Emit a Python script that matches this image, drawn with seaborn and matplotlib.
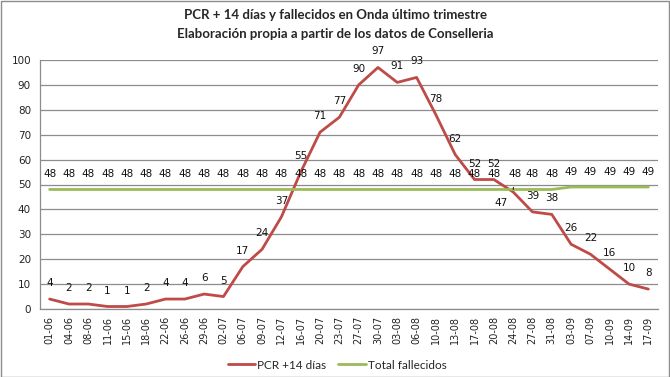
import matplotlib
matplotlib.use("Agg")
import matplotlib.pyplot as plt
import seaborn as sns
import pandas as pd
from matplotlib.patches import Rectangle

fechas = ["01-06", "04-06", "08-06", "11-06", "15-06", "18-06", "22-06", "26-06",
          "29-06", "02-07", "06-07", "09-07", "12-07", "16-07", "20-07", "23-07",
          "27-07", "30-07", "03-08", "06-08", "10-08", "13-08", "17-08", "20-08",
          "24-08", "27-08", "31-08", "03-09", "07-09", "10-09", "14-09", "17-09"]
pcr = [4, 2, 2, 1, 1, 2, 4, 4, 6, 5, 17, 24, 37, 55, 71, 77, 90, 97, 91, 93,
       78, 62, 52, 52, 47, 39, 38, 26, 22, 16, 10, 8]
fallecidos = [48] * 27 + [49] * 5

serie_pcr = "PCR +14 días"
serie_fall = "Total fallecidos"

idx = list(range(len(fechas)))
df = pd.DataFrame({
    "x": idx * 2,
    "valor": pcr + fallecidos,
    "serie": [serie_pcr] * len(idx) + [serie_fall] * len(idx),
})

sns.set_style("white")
plt.rcParams["font.family"] = ["DejaVu Sans"]

RED = "#BE4B48"
GREEN = "#9BBB59"
GRID = "#8C8C8C"

fig = plt.figure(figsize=(6.7, 3.77), dpi=100)
ax = fig.add_axes([40 / 670, 1 - 309 / 377, 618 / 670, 249 / 377])

sns.lineplot(data=df, x="x", y="valor", hue="serie",
             palette={serie_pcr: RED, serie_fall: GREEN},
             linewidth=2.0, ax=ax, legend=True)

ax.set_xlim(-0.5, len(fechas) - 0.5)
ax.set_ylim(0, 100)
ax.set_yticks(range(0, 101, 10))
ax.set_xticks(idx)
ax.set_xticklabels(fechas, rotation=90, fontsize=7, color="#222222")
ax.tick_params(axis="y", labelsize=7.5, colors="#222222", length=3, color=GRID)
ax.tick_params(axis="x", length=3, color=GRID, pad=2)
ax.set_xlabel("")
ax.set_ylabel("")
ax.yaxis.grid(True, color=GRID, linewidth=0.9)
ax.set_axisbelow(True)
for s in ["top", "right"]:
    ax.spines[s].set_visible(False)
for s in ["left", "bottom"]:
    ax.spines[s].set_color(GRID)
    ax.spines[s].set_linewidth(0.9)

# data labels
for i, v in enumerate(fallecidos):
    if fechas[i] == "24-08":
        ax.annotate(str(v), (i, v), xytext=(1.5, 11.5), textcoords="offset points",
                    ha="center", va="center", fontsize=7.5, color="#111111",
                    arrowprops=dict(arrowstyle="-", color="#111111", lw=0.7,
                                    shrinkA=4, shrinkB=0))
    else:
        ax.annotate(str(v), (i, v), xytext=(0, 11), textcoords="offset points",
                    ha="center", va="center", fontsize=7.5, color="#111111")
for i, v in enumerate(pcr):
    if fechas[i] == "24-08":
        ax.annotate(str(v), (i, v), xytext=(-9, -8), textcoords="offset points",
                    ha="center", va="center", fontsize=7.5, color="#111111")
    else:
        ax.annotate(str(v), (i, v), xytext=(0, 11.5), textcoords="offset points",
                    ha="center", va="center", fontsize=7.5, color="#111111")

leg = ax.legend(loc="center", bbox_to_anchor=(0.481, -0.225),
                ncol=2, frameon=False, handlelength=2.3,
                columnspacing=1.0, handletextpad=0.2,
                prop={"family": "Lato", "size": 8.5})

fig.text(0.5, 1 - 15 / 377, "PCR + 14 días y fallecidos en Onda último trimestre",
         ha="center", va="center", fontsize=9.5, fontweight="bold", family="Lato")
fig.text(0.5, 1 - 34 / 377, "Elaboración propia a partir de los datos de Conselleria",
         ha="center", va="center", fontsize=9.5, fontweight="bold", family="Lato")

fig.patches.append(Rectangle((0.5 / 670, 0.5 / 377), 1 - 1.5 / 670, 1 - 1.5 / 377,
                             transform=fig.transFigure, fill=False,
                             edgecolor="#8C8C8C", linewidth=1.0))

fig.savefig("out.png", dpi=100)
